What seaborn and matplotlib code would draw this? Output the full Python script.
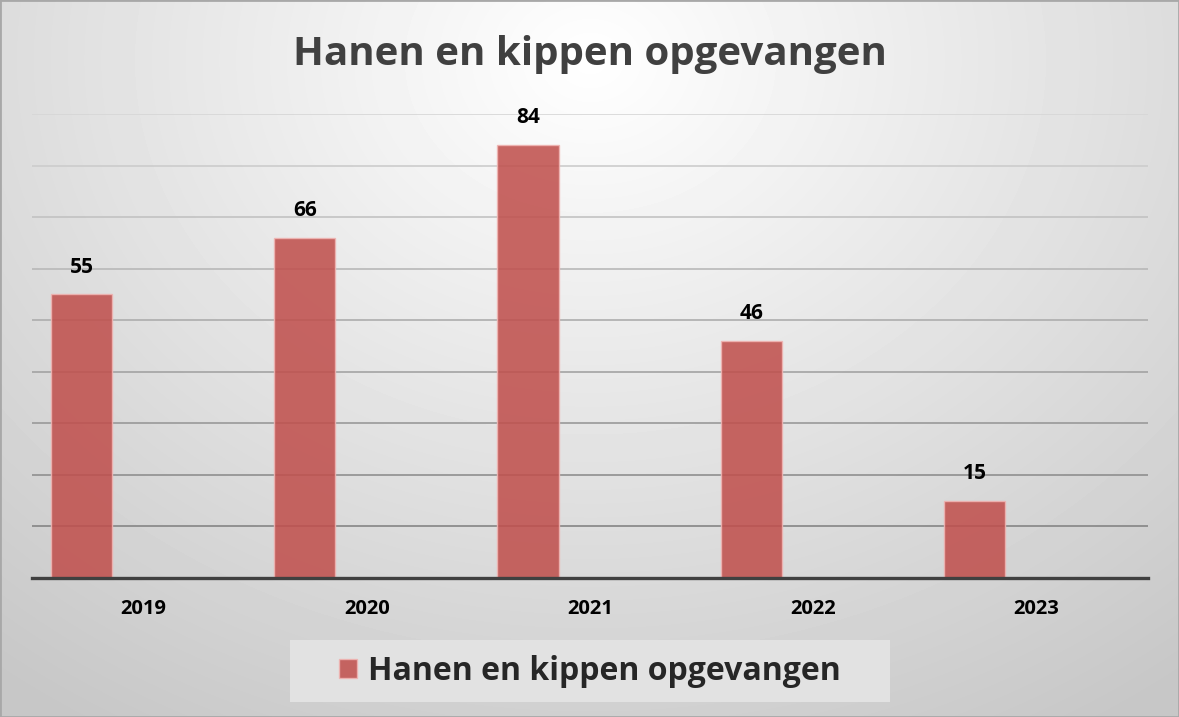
import numpy as np
import pandas as pd
import matplotlib.pyplot as plt
import seaborn as sns
from matplotlib.patches import Patch, Rectangle

years = ['2019', '2020', '2021', '2022', '2023']
counts = [55, 66, 84, 46, 15]
series_name = 'Hanen en kippen opgevangen'
empty_series = 'leeg'
title = 'Hanen en kippen opgevangen'

# excel chart had a second (empty) series next to each bar
df = pd.DataFrame({
    'jaar': years * 2,
    'serie': [series_name] * len(years) + [empty_series] * len(years),
    'aantal': counts + [np.nan] * len(years),
})

sns.set_style('white')
plt.rcParams['font.family'] = ['Open Sans', 'DejaVu Sans']

W, H = 1179, 717
fig = plt.figure(figsize=(W / 100, H / 100), dpi=100)

# radial grey background like the office chart style
bg = fig.add_axes([0, 0, 1, 1], zorder=-10)
yy, xx = np.mgrid[0:H, 0:W]
d = np.sqrt(((xx - 590) / 950) ** 2 + ((yy - 60) / 780) ** 2)
shade = 1 - 0.22 * np.clip(d, 0, 1)
bg.imshow(shade, cmap='gray', vmin=0, vmax=1, aspect='auto', interpolation='bilinear')
bg.set_axis_off()
fig.patches.append(Rectangle((0, 0), 1, 1, transform=fig.transFigure, fill=False,
                             edgecolor='#A8A8A8', linewidth=2))

ax = fig.add_axes([32 / W, (H - 578) / H, (1148 - 32) / W, (578 - 114) / H])
ax.patch.set_alpha(0)

sns.barplot(data=df, x='jaar', y='aantal', hue='serie', hue_order=[series_name, empty_series],
            palette=['#C0504D', '#4F81BD'], saturation=1, width=1.11, gap=0.506, alpha=0.87,
            edgecolor='#F0B4B2', linewidth=1, legend=False, ax=ax)

ax.set_xlim(-0.5, len(years) - 0.5)
ax.set_ylim(0, 90)
ax.set_yticks(np.arange(10, 91, 10))
ax.set_yticklabels([])
ax.tick_params(axis='y', length=0)
ax.tick_params(axis='x', length=0, pad=15)
for lab in ax.get_xticklabels():
    lab.set_fontweight('bold')
    lab.set_fontsize(14.5)
    lab.set_color('black')
ax.set_xlabel('')
ax.set_ylabel('')

ax.grid(axis='y', linewidth=1.2)
gl = ax.get_ygridlines()
for i, line in enumerate(gl):
    # gridlines fade out toward the top
    g = 0.52 + 0.32 * i / max(len(gl) - 1, 1)
    line.set_color((g, g, g))
ax.set_axisbelow(True)

for s in ['top', 'right', 'left']:
    ax.spines[s].set_visible(False)
ax.spines['bottom'].set_color('#404040')
ax.spines['bottom'].set_linewidth(2.4)
ax.spines['bottom'].set_zorder(5)

ax.bar_label(ax.containers[0], padding=12, fontsize=15, fontweight='bold', color='black')

fig.text(590 / W, 1 - 54 / H, title, ha='center', va='center', fontsize=29,
         fontweight='bold', color='#404040')

fig.patches.append(Rectangle((290 / W, 1 - 702 / H), 600 / W, 62 / H, transform=fig.transFigure,
                             facecolor='#E2E2E2', edgecolor='none', zorder=0))
handle = Patch(facecolor='#C0504D', alpha=0.87, edgecolor='#F0B4B2')
fig.legend(handles=[handle], labels=[series_name], loc='center',
           bbox_to_anchor=(590 / W, 1 - 671 / H), frameon=False,
           prop={'weight': 'bold', 'size': 23}, handlelength=0.55, handleheight=0.55,
           handletextpad=0.35)

fig.savefig('out.png', dpi=100)
